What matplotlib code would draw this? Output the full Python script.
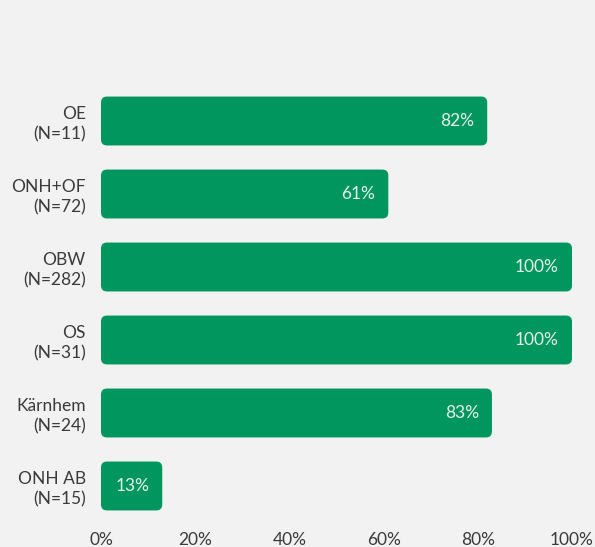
import matplotlib.pyplot as plt
from matplotlib.patches import FancyBboxPatch

categories = ["OE\n(N=11)", "ONH+OF\n(N=72)", "OBW\n(N=282)", "OS\n(N=31)",
              "Kärnhem\n(N=24)", "ONH AB\n(N=15)"]
values = [82, 61, 100, 100, 83, 13]
xticks = [0, 20, 40, 60, 80, 100]

bg = "#f2f2f2"
green = "#00965e"
text_col = "#3a3a3a"

plt.rcParams['font.family'] = ['Lato', 'DejaVu Sans']

fig = plt.figure(figsize=(5.95, 5.47), dpi=100, facecolor=bg)
ax = fig.add_axes([101 / 595, 0.0448, 471 / 595, 0.8007])
ax.set_facecolor(bg)

ys = list(range(len(categories)))
bar_h = 0.67
# px per data unit, used to keep corner radius round
px_x = 471 / 100
px_y = 438 / 6
radius = 6 / px_x

for y, v in zip(ys, values):
    box = FancyBboxPatch((0, y - bar_h / 2), v, bar_h,
                         boxstyle=f"round,pad=0,rounding_size={radius}",
                         mutation_aspect=px_x / px_y,
                         facecolor=green, edgecolor="none")
    ax.add_patch(box)
    ax.text(v - 13 / px_x, y, f"{v}%", ha="right", va="center",
            color="#e6f2ec", fontsize=12.5)

ax.set_xlim(0, 100)
ax.set_ylim(len(categories) - 0.5, -0.5)
ax.set_yticks(ys)
ax.set_yticklabels(categories, fontsize=12.5, color=text_col, linespacing=1.3)
ax.set_xticks(xticks)
ax.set_xticklabels([f"{t}%" for t in xticks], fontsize=12.5, color=text_col)
ax.tick_params(length=0, axis="y", pad=11)
ax.tick_params(length=0, axis="x", pad=7)
for s in ax.spines.values():
    s.set_visible(False)

fig.savefig("out.png", dpi=100, facecolor=bg)
